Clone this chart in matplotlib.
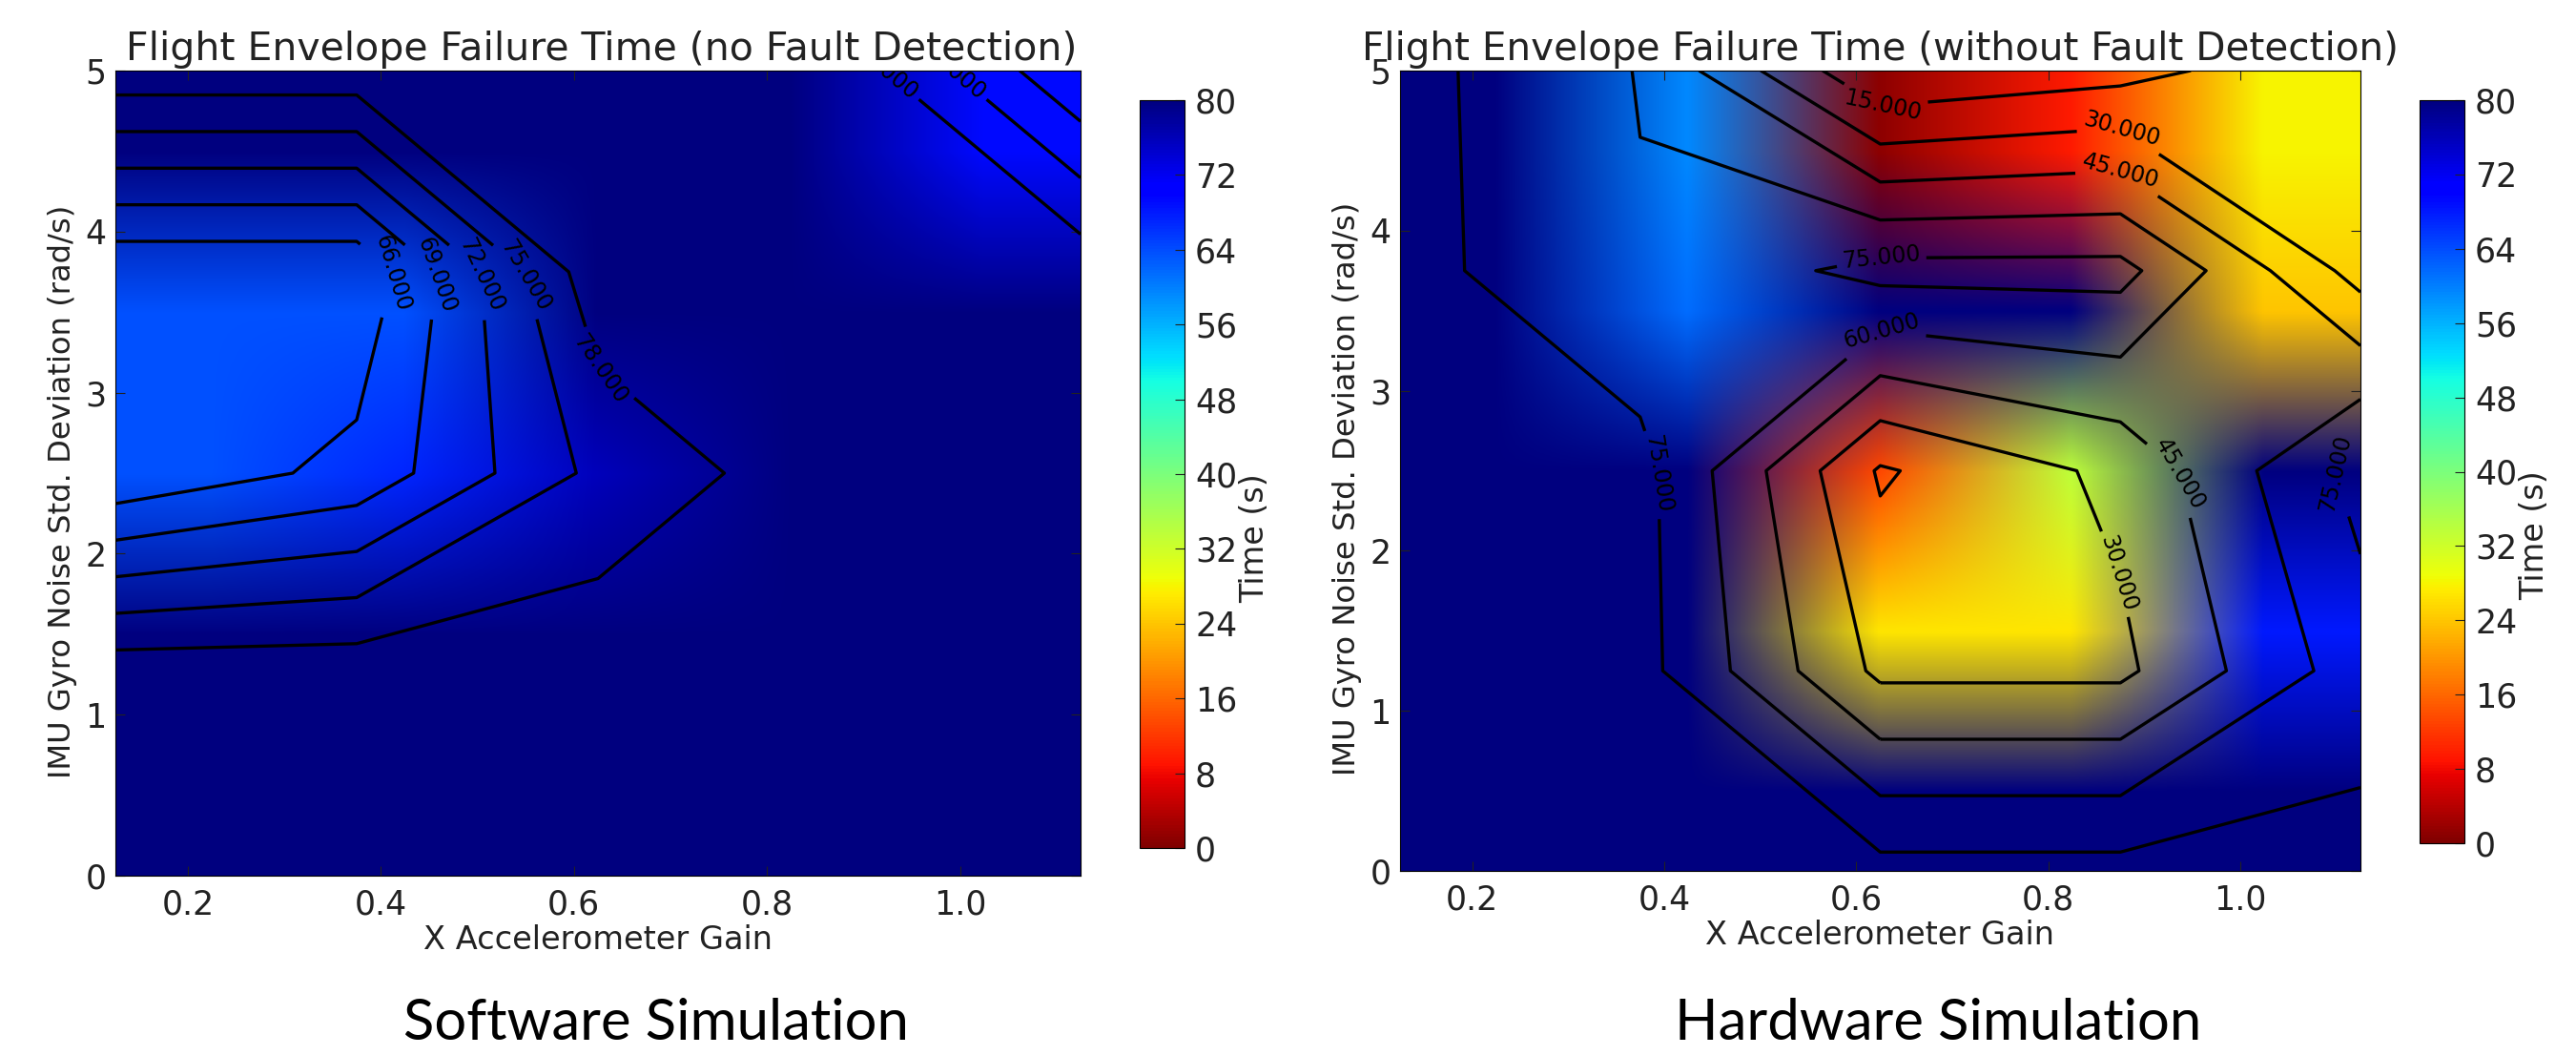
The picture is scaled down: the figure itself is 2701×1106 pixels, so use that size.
import numpy as np
import matplotlib
matplotlib.use('Agg')
import matplotlib.pyplot as plt

# gains and noise grid of the sweep
x_gain = [0.125, 0.375, 0.625, 0.875, 1.125]
y_noise = [0, 1.25, 2.5, 3.75, 5]

# failure time (s), rows go from y_noise[0] up
soft_time = [[80, 80, 80, 80, 80],
             [80, 80, 80, 80, 80],
             [63.5, 66.9, 75.8, 80, 80],
             [63.5, 63.5, 80, 80, 80],
             [80, 80, 80, 80, 69.3]]
hard_time = [[80, 80, 80, 80, 80],
             [80, 80, 26.8, 26.8, 68],
             [80, 80, 13.3, 33.7, 80],
             [80, 61.4, 80, 80, 24],
             [80, 59.3, 1, 9.6, 28]]

soft_levels = [66, 69, 72, 75, 78]
hard_levels = [15, 30, 45, 60, 75]
x_ticks = [0.2, 0.4, 0.6, 0.8, 1.0]
y_ticks = [0, 1, 2, 3, 4, 5]
cbar_ticks = [0, 8, 16, 24, 32, 40, 48, 56, 64, 72, 80]

soft_labels = [(.418, 3.73), (.46, 3.73), (.507, 3.73), (.552, 3.73), (.626, 3.14), (.908, 5.02), (.98, 5.02)]
hard_labels = [(.628, 4.77), (.877, 4.64), (.877, 4.39), (.626, 3.81), (.626, 3.37),
               (.396, 2.48), (.937, 2.48), (.877, 1.87), (1.097, 2.48)]

W, H = 2701.0, 1106.0
fig = plt.figure(figsize=(W / 100, H / 100), dpi=100)


def box(x0, y0, x1, y1):
    return [x0 / W, 1 - y1 / H, (x1 - x0) / W, (y1 - y0) / H]


def panel(z, levels, title, label_pos, ax_box, cax_box, caption, cap_x, title_x, title_size):
    ax = fig.add_axes(box(*ax_box))
    z = np.array(z)
    im = ax.imshow(z, origin='lower', cmap='jet_r', vmin=0, vmax=80, aspect='auto',
                   extent=[0.125, 1.125, 0, 5], interpolation='bilinear', interpolation_stage='rgba')
    cs = ax.contour(x_gain, y_noise, z, levels=levels, colors='black', linewidths=2.4)
    labs = ax.clabel(cs, fmt='%.3f', fontsize=17, manual=label_pos, inline=True, inline_spacing=6)
    for t in labs:
        t.set_clip_path(ax.patch)
        t.set_clip_on(True)
    ax.set_xlim(0.125, 1.125)
    ax.set_ylim(0, 5)
    ax.set_xticks(x_ticks)
    ax.set_yticks(y_ticks)
    ax.tick_params(direction='in', top=True, right=True, length=7, labelsize=25, colors='#222222')
    ax.tick_params(axis='x', pad=10)
    ax.tick_params(axis='y', pad=7)
    ax.set_xlabel('X Accelerometer Gain', fontsize=24.2, color='#222222', labelpad=2)
    ax.set_ylabel('IMU Gyro Noise Std. Deviation (rad/s)', fontsize=23.2, color='#222222', labelpad=6, y=0.4775)
    fig.text(title_x / W, 1 - 52 / H, title, fontsize=title_size, color='#222222', ha='center', va='center')

    cax = fig.add_axes(box(*cax_box))
    cb = fig.colorbar(im, cax=cax, ticks=cbar_ticks)
    cb.ax.tick_params(direction='in', length=7, labelsize=25, pad=8, colors='#222222')
    cb.set_label('Time (s)', fontsize=24, color='#222222', labelpad=1, y=0.414)

    fig.text(cap_x / W, 1 - 1073 / H, caption, fontsize=43, family='Lato', color='black', ha='center', va='center')


panel(soft_time, soft_levels, 'Flight Envelope Failure Time (no Fault Detection)', soft_labels,
      (121, 74, 1133, 918), (1195, 105, 1242, 889), 'Software Simulation', 688, 631, 29.5)
panel(hard_time, hard_levels, 'Flight Envelope Failure Time (without Fault Detection)', hard_labels,
      (1468, 74, 2475, 913), (2537, 105, 2584, 884), 'Hardware Simulation', 2032, 1972, 29.2)

plt.savefig('out.png', dpi=100)
